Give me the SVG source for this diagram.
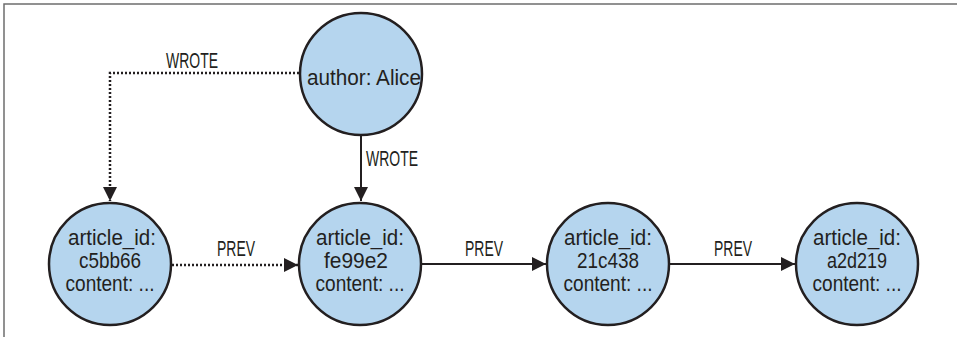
<svg xmlns="http://www.w3.org/2000/svg" width="957" height="337" viewBox="0 0 957 337">
<style>
  .node circle { fill: #b5d5ee; stroke: #231f20; stroke-width: 2.5; }
  .node text, .lbl { font-family: "Liberation Sans", Arial, sans-serif; font-size: 22px; fill: #231f20; text-anchor: middle; }
  .edge { fill: none; stroke: #231f20; stroke-width: 2; }
  .dot { stroke-width: 2.5; stroke-dasharray: 2 2; }
</style>
<defs>
  <marker id="arr" viewBox="0 0 14 14" refX="14" refY="7" markerWidth="14" markerHeight="14" orient="auto" markerUnits="userSpaceOnUse">
    <path d="M0,0 L14,7 L0,14 z" fill="#231f20"/>
  </marker>
</defs>
<path d="M4,337 V4 H957" fill="none" stroke="#6e6e6e" stroke-width="1.5"/>
<g id="connectors">
  <path class="edge dot" d="M299,73 H110 V201" marker-end="url(#arr)"/>
  <text class="lbl" x="192" y="68" textLength="52" lengthAdjust="spacingAndGlyphs">WROTE</text>
  <path class="edge" d="M361,135 V201" marker-end="url(#arr)"/>
  <text class="lbl" x="392" y="166" textLength="52" lengthAdjust="spacingAndGlyphs">WROTE</text>
  <path class="edge dot" d="M172,265 H298" marker-end="url(#arr)"/>
  <text class="lbl" x="236" y="256" textLength="38" lengthAdjust="spacingAndGlyphs">PREV</text>
  <path class="edge" d="M421,264 H546" marker-end="url(#arr)"/>
  <text class="lbl" x="484" y="256" textLength="38" lengthAdjust="spacingAndGlyphs">PREV</text>
  <path class="edge" d="M670,264 H795" marker-end="url(#arr)"/>
  <text class="lbl" x="733" y="256" textLength="38" lengthAdjust="spacingAndGlyphs">PREV</text>
</g>
<g id="author" class="node">
  <circle cx="361" cy="74" r="61"/>
  <text x="364" y="85" textLength="114" lengthAdjust="spacingAndGlyphs">author: Alice</text>
</g>
<g id="c5bb66" class="node">
  <circle cx="110" cy="264" r="61"/>
  <text x="112" y="245" textLength="88" lengthAdjust="spacingAndGlyphs">article_id:</text>
  <text x="110" y="268" textLength="62" lengthAdjust="spacingAndGlyphs">c5bb66</text>
  <text x="110" y="291" textLength="89" lengthAdjust="spacingAndGlyphs">content: ...</text>
</g>
<g id="fe99e2" class="node">
  <circle cx="360" cy="264" r="61"/>
  <text x="360" y="245" textLength="88" lengthAdjust="spacingAndGlyphs">article_id:</text>
  <text x="356" y="268" textLength="64" lengthAdjust="spacingAndGlyphs">fe99e2</text>
  <text x="360" y="291" textLength="89" lengthAdjust="spacingAndGlyphs">content: ...</text>
</g>
<g id="21c438" class="node">
  <circle cx="608" cy="264" r="61"/>
  <text x="608" y="245" textLength="88" lengthAdjust="spacingAndGlyphs">article_id:</text>
  <text x="608" y="268" textLength="62" lengthAdjust="spacingAndGlyphs">21c438</text>
  <text x="608" y="291" textLength="89" lengthAdjust="spacingAndGlyphs">content: ...</text>
</g>
<g id="a2d219" class="node">
  <circle cx="857" cy="264" r="61"/>
  <text x="857" y="245" textLength="88" lengthAdjust="spacingAndGlyphs">article_id:</text>
  <text x="857" y="268" textLength="60" lengthAdjust="spacingAndGlyphs">a2d219</text>
  <text x="857" y="291" textLength="89" lengthAdjust="spacingAndGlyphs">content: ...</text>
</g>
</svg>
